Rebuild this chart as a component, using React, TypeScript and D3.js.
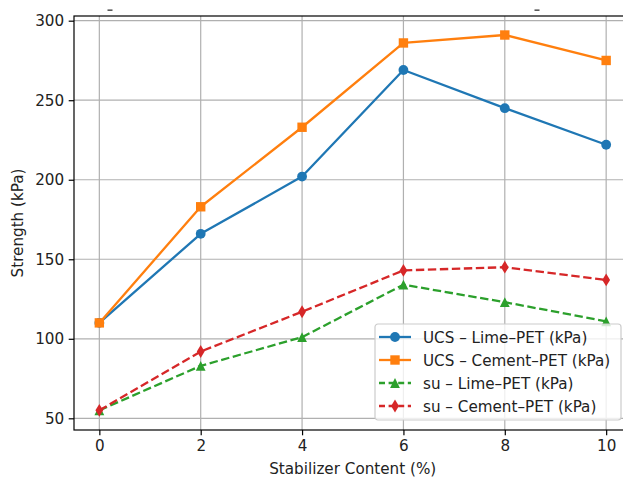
import { useEffect, useRef } from "react";
import * as d3 from "d3";

// stabilizer content (%)
const content = [0, 2, 4, 6, 8, 10];

// strength values (kPa)
const ucsLime = [110, 166, 202, 269, 245, 222];
const ucsCement = [110, 183, 233, 286, 291, 275];
const suLime = [55, 83, 101, 134, 123, 111];
const suCement = [55, 92, 117, 143, 145, 137];

const xTicks = [0, 2, 4, 6, 8, 10];
const yTicks = [50, 100, 150, 200, 250, 300];

const seriesNames = [
  "UCS \u2013 Lime\u2013PET (kPa)",
  "UCS \u2013 Cement\u2013PET (kPa)",
  "su \u2013 Lime\u2013PET (kPa)",
  "su \u2013 Cement\u2013PET (kPa)",
];

const W = 623;
const H = 478;
const FONT = "DejaVu Sans, sans-serif";
const FS = 15.2;

export default function App() {
  const ref = useRef<SVGSVGElement | null>(null);

  useEffect(() => {
    const svg = d3.select(ref.current);
    svg.selectAll("*").remove();

    const left = 74, top = 16, right = 631.5, bottom = 430;

    const x = d3.scaleLinear().domain([-0.5, 10.5]).range([left, right]);
    const y = d3.scaleLinear().domain([42.65, 302.95]).range([bottom, top]);

    const series = [
      { name: seriesNames[0], values: ucsLime, color: "#1f77b4", dash: null, marker: "circle" },
      { name: seriesNames[1], values: ucsCement, color: "#ff7f0e", dash: null, marker: "square" },
      { name: seriesNames[2], values: suLime, color: "#2ca02c", dash: "8.4,3.6", marker: "triangle" },
      { name: seriesNames[3], values: suCement, color: "#d62728", dash: "8.4,3.6", marker: "diamond" },
    ];

    // tiny leftovers of a clipped title at the top
    svg.append("g").selectAll("rect")
      .data([107.5, 534.5])
      .join("rect")
      .attr("x", (d) => d)
      .attr("y", 9.5)
      .attr("width", 5)
      .attr("height", 1.3)
      .attr("fill", "#333");

    // grid
    const grid = svg.append("g").attr("stroke", "#b0b0b0").attr("stroke-width", 1.2);
    grid.selectAll("line.gx").data(xTicks).join("line")
      .attr("x1", (d) => x(d)).attr("x2", (d) => x(d))
      .attr("y1", top).attr("y2", bottom);
    grid.selectAll("line.gy").data(yTicks).join("line")
      .attr("x1", left).attr("x2", right)
      .attr("y1", (d) => y(d)).attr("y2", (d) => y(d));

    const markerPath = (kind: string) => {
      if (kind === "circle") return d3.symbol(d3.symbolCircle, Math.PI * 4.9 * 4.9)();
      if (kind === "square") return d3.symbol(d3.symbolSquare, 9.4 * 9.4)();
      if (kind === "triangle") return "M0,-4.9L4.9,4.9L-4.9,4.9Z";
      return "M0,-6.4L3.9,0L0,6.4L-3.9,0Z";
    };

    const line = d3.line<number>()
      .x((_, i) => x(content[i]))
      .y((d) => y(d));

    const plot = svg.append("g");
    series.forEach((s) => {
      plot.append("path")
        .attr("d", line(s.values))
        .attr("fill", "none")
        .attr("stroke", s.color)
        .attr("stroke-width", 2.3)
        .attr("stroke-dasharray", s.dash)
        .attr("stroke-linejoin", "round");
      plot.append("g").selectAll("path")
        .data(s.values)
        .join("path")
        .attr("d", markerPath(s.marker))
        .attr("transform", (d, i) => `translate(${x(content[i])},${y(d)})`)
        .attr("fill", s.color);
    });

    // spines
    svg.append("rect")
      .attr("x", left).attr("y", top)
      .attr("width", right - left).attr("height", bottom - top)
      .attr("fill", "none").attr("stroke", "#000").attr("stroke-width", 1.2);

    // axes
    const xAxis = svg.append("g")
      .attr("transform", `translate(0,${bottom})`)
      .call(d3.axisBottom(x).tickValues(xTicks).tickSize(5.3).tickPadding(4.5));
    const yAxis = svg.append("g")
      .attr("transform", `translate(${left},0)`)
      .call(d3.axisLeft(y).tickValues(yTicks).tickSize(5.3).tickPadding(4.5));
    [xAxis, yAxis].forEach((a) => {
      a.select(".domain").remove();
      a.selectAll("line").attr("stroke", "#000").attr("stroke-width", 1.2);
      a.selectAll("text")
        .attr("font-family", FONT)
        .attr("font-size", FS)
        .attr("fill", "#222");
    });

    svg.append("text")
      .attr("x", (left + right) / 2)
      .attr("y", 474)
      .attr("text-anchor", "middle")
      .attr("font-family", FONT)
      .attr("font-size", FS)
      .attr("fill", "#222")
      .text("Stabilizer Content (%)");

    svg.append("text")
      .attr("transform", `translate(23,${(top + bottom) / 2}) rotate(-90)`)
      .attr("text-anchor", "middle")
      .attr("font-family", FONT)
      .attr("font-size", FS)
      .attr("fill", "#222")
      .text("Strength (kPa)");

    // legend
    const lg = svg.append("g").attr("transform", "translate(375,324)");
    lg.append("rect")
      .attr("width", 246).attr("height", 96)
      .attr("rx", 3)
      .attr("fill", "#fff").attr("fill-opacity", 0.8)
      .attr("stroke", "#cccccc").attr("stroke-width", 1.2);
    const rows = lg.selectAll("g.row").data(series).join("g")
      .attr("transform", (_, i) => `translate(0,${13 + i * 23})`);
    rows.append("line")
      .attr("x1", 4).attr("x2", 36)
      .attr("stroke", (d) => d.color)
      .attr("stroke-width", 2.3)
      .attr("stroke-dasharray", (d) => (d.dash ? "6,3.6" : null));
    rows.append("path")
      .attr("d", (d) => markerPath(d.marker))
      .attr("transform", "translate(20,0)")
      .attr("fill", (d) => d.color);
    rows.append("text")
      .attr("x", 48)
      .attr("y", 5.5)
      .attr("font-family", FONT)
      .attr("font-size", FS)
      .attr("fill", "#222")
      .text((d) => d.name);
  }, []);

  return (
    <svg
      ref={ref}
      width={W}
      height={H}
      style={{ position: "absolute", left: 0, top: 0, background: "#fff" }}
    />
  );
}
